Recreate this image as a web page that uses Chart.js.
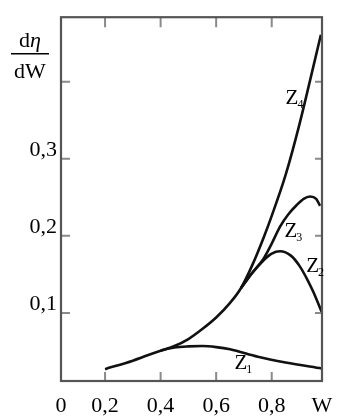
<!DOCTYPE html>
<html>
<head>
<meta charset="utf-8">
<script src="https://cdn.jsdelivr.net/npm/chart.js@4"></script>
<style>
  html, body { margin: 0; padding: 0; background: #fff; }
  #wrap { width: 346px; height: 420px; }
</style>
</head>
<body>
<div id="wrap"><canvas id="chart"></canvas></div>
<script>
// values (W on x, dη/dW on y)
const z1W = [0.2, 0.3, 0.4, 0.45, 0.5, 0.55, 0.6, 0.65, 0.75, 0.85, 0.98];
const z1 = [0.027, 0.038, 0.051, 0.055, 0.0565, 0.057, 0.0556, 0.0527, 0.043, 0.0356, 0.0278];

const z4W = [0.4, 0.45, 0.5, 0.55, 0.6, 0.65, 0.689, 0.73, 0.77, 0.8, 0.85, 0.9, 0.95, 0.977];
const z4 = [0.051, 0.057, 0.066, 0.079, 0.094, 0.113, 0.132, 0.162, 0.197, 0.226, 0.279, 0.345, 0.42, 0.461];

const z3W = [0.689, 0.73, 0.77, 0.8, 0.83, 0.86, 0.89, 0.915, 0.938, 0.96, 0.974];
const z3 = [0.132, 0.152, 0.17, 0.19, 0.212, 0.228, 0.24, 0.248, 0.251, 0.248, 0.239];

const z2W = [0.689, 0.73, 0.77, 0.8, 0.83, 0.87, 0.9, 0.93, 0.95, 0.98];
const z2 = [0.132, 0.152, 0.168, 0.177, 0.18, 0.174, 0.161, 0.142, 0.127, 0.101];

const xMin = 0.0414, xMax = 0.981;
const yMin = 0.0116, yMax = 0.4838;
const xTickVals = [xMin, 0.2, 0.4, 0.6, 0.8, xMax];
const xTickLabels = ["0", "0,2", "0,4", "0,6", "0,8", "W"];
const yTickVals = [0.1, 0.2, 0.3, 0.4];
const yTickLabels = ["0,1", "0,2", "0,3", ""];

// curve names and where they sit (data units, left/baseline of the Z)
const curveNames = ["4", "3", "2", "1"];
const nameW = [0.85, 0.846, 0.924, 0.666];
const nameV = [0.371, 0.199, 0.153, 0.027];

const serif = '"Liberation Serif", "Times New Roman", serif';

function pts(xs, ys) {
  return xs.map((x, i) => ({ x: x, y: ys[i] }));
}

function line(data) {
  return {
    data: data,
    borderColor: "#111",
    borderWidth: 2.6,
    pointRadius: 0,
    fill: false,
    cubicInterpolationMode: "monotone"
  };
}

const frame = {
  id: "frame",
  afterDraw(chart) {
    const ctx = chart.ctx;
    const a = chart.chartArea;
    const sx = chart.scales.x, sy = chart.scales.y;
    ctx.save();

    // inward tick marks on all four sides
    ctx.strokeStyle = "#8a8a8a";
    ctx.lineWidth = 2;
    ctx.beginPath();
    xTickVals.slice(1, -1).forEach(v => {
      const px = sx.getPixelForValue(v);
      ctx.moveTo(px, a.bottom); ctx.lineTo(px, a.bottom - 9);
      ctx.moveTo(px, a.top); ctx.lineTo(px, a.top + 10);
    });
    yTickVals.forEach(v => {
      const py = sy.getPixelForValue(v);
      ctx.moveTo(a.left, py); ctx.lineTo(a.left + 9, py);
      ctx.moveTo(a.right, py); ctx.lineTo(a.right - 7, py);
    });
    ctx.stroke();

    // box
    ctx.strokeStyle = "#555";
    ctx.lineWidth = 2.2;
    ctx.strokeRect(a.left, a.top, a.right - a.left, a.bottom - a.top);

    // curve names Z1..Z4
    ctx.fillStyle = "#000";
    ctx.textBaseline = "alphabetic";
    ctx.textAlign = "left";
    curveNames.forEach((n, i) => {
      const px = sx.getPixelForValue(nameW[i]);
      const py = sy.getPixelForValue(nameV[i]);
      ctx.font = "21px " + serif;
      ctx.fillText("Z", px, py);
      const w = ctx.measureText("Z").width;
      ctx.font = "12px " + serif;
      ctx.fillText(n, px + w - 1, py + 4);
    });

    // axis title dη / dW
    const cx = 30;
    ctx.font = "22px " + serif;
    const dw = ctx.measureText("d").width;
    ctx.font = "italic 22px " + serif;
    const ew = ctx.measureText("η").width;
    const start = cx - (dw + ew) / 2;
    ctx.font = "22px " + serif;
    ctx.fillText("d", start, 47);
    ctx.font = "italic 22px " + serif;
    ctx.fillText("η", start + dw, 47);
    ctx.fillRect(11, 53, 38, 1.5);
    ctx.font = "22px " + serif;
    ctx.textAlign = "center";
    ctx.fillText("dW", cx, 78);

    ctx.restore();
  }
};

new Chart(document.getElementById("chart"), {
  type: "line",
  data: {
    datasets: [
      line(pts(z1W, z1)),
      line(pts(z4W, z4)),
      line(pts(z3W, z3)),
      line(pts(z2W, z2))
    ]
  },
  options: {
    responsive: true,
    maintainAspectRatio: false,
    animation: false,
    layout: { padding: { left: 0, top: 16, right: 24, bottom: 0 } },
    plugins: { legend: { display: false }, tooltip: { enabled: false } },
    scales: {
      x: {
        type: "linear",
        min: xMin,
        max: xMax,
        afterBuildTicks: s => { s.ticks = xTickVals.map(v => ({ value: v })); },
        afterFit: s => { s.height = 39; },
        grid: { display: false, drawTicks: false },
        border: { display: false },
        ticks: {
          padding: 12,
          color: "#000",
          font: { family: serif, size: 22 },
          maxRotation: 0,
          autoSkip: false,
          callback: (v, i) => xTickLabels[i]
        }
      },
      y: {
        type: "linear",
        min: yMin,
        max: yMax,
        afterBuildTicks: s => { s.ticks = yTickVals.map(v => ({ value: v })); },
        afterFit: s => { s.width = 61; },
        grid: { display: false, drawTicks: false },
        border: { display: false },
        ticks: {
          padding: 4,
          labelOffset: -9,
          color: "#000",
          font: { family: serif, size: 22 },
          autoSkip: false,
          callback: (v, i) => yTickLabels[i]
        }
      }
    }
  },
  plugins: [frame]
});
</script>
</body>
</html>
